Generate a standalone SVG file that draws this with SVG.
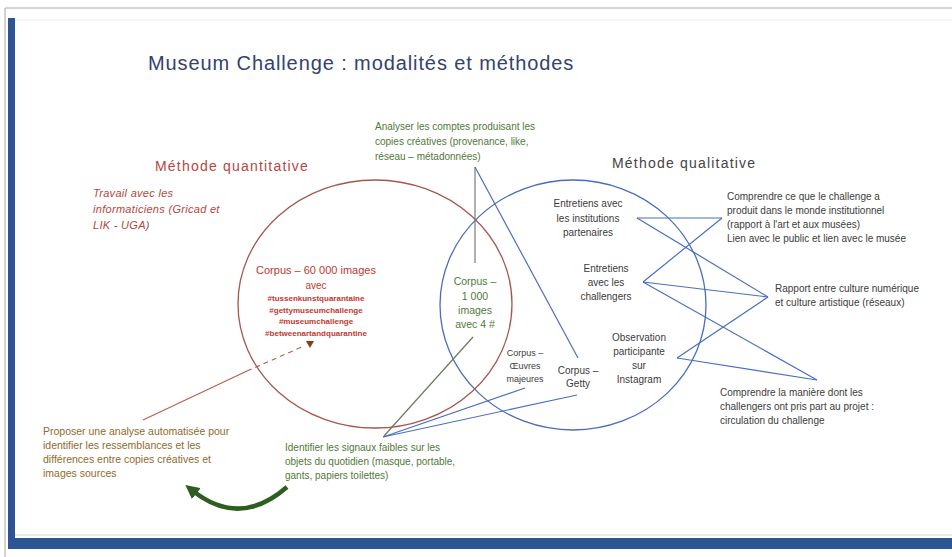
<svg xmlns="http://www.w3.org/2000/svg" width="952" height="557" viewBox="0 0 952 557">
<defs>
<style>
text{font-family:"Liberation Sans","DejaVu Sans",Arial,sans-serif}
.title{font-size:20px;fill:#33426e;letter-spacing:0.9px}
.h-red{font-size:14px;fill:#b5473f;letter-spacing:1.2px}
.h-gray{font-size:14px;fill:#444;letter-spacing:1.2px}
.red-it{font-size:11px;fill:#b8443c;font-style:italic;letter-spacing:0.3px}
.red{font-size:11px;fill:#c0392f}
.tag{font-size:8px;fill:#c0392f;font-weight:bold}
.green{font-size:10px;fill:#4f7a38}
.olive{font-size:10.5px;fill:#8e6b2c}
.gray{font-size:10px;fill:#3c3c3c}
.gray-s{font-size:9px;fill:#3c3c3c}
.mid{text-anchor:middle}
.bl{stroke:#4a6fc0;stroke-width:1.2;fill:none}
</style>
<marker id="ah" markerUnits="userSpaceOnUse" markerWidth="14" markerHeight="14" viewBox="0 0 10 10" refX="3" refY="5" orient="auto">
<path d="M0,0 L10,5 L0,10 z" fill="#2e5e1f"/>
</marker>
</defs>
<rect width="952" height="557" fill="#ffffff"/>
<g id="frame">
<line x1="5" y1="8" x2="952" y2="8" stroke="#a8a8a8" stroke-width="1"/>
<line x1="5" y1="8" x2="5" y2="557" stroke="#a8a8a8" stroke-width="1"/>
<line x1="15" y1="20" x2="952" y2="20" stroke="#ececec" stroke-width="1"/>
<line x1="15" y1="535" x2="952" y2="535" stroke="#cdd6e6" stroke-width="1"/>
<rect x="8" y="18" width="7" height="531" fill="#2d5596"/>
<rect x="8" y="538" width="944" height="11" fill="#2d5596"/>
</g>
<g id="title"><text class="title" x="148" y="70">Museum Challenge : modalités et méthodes</text></g>

<g id="connectors">
<ellipse id="circle-quanti" cx="375" cy="304" rx="137" ry="124" fill="none" stroke="#a5574d" stroke-width="1.3"/>
<ellipse id="circle-quali" cx="573" cy="305" rx="133" ry="125" fill="none" stroke="#4a6cba" stroke-width="1.3"/>
<line x1="475" y1="167" x2="475" y2="263" stroke="#7a7a7a" stroke-width="1.2"/>
<line class="bl" x1="475" y1="167" x2="578" y2="358"/>
<line x1="473" y1="337" x2="384" y2="436" stroke="#6b7a5a" stroke-width="1.2"/>
<line class="bl" x1="383" y1="437" x2="525" y2="388"/>
<line class="bl" x1="383" y1="437" x2="577" y2="395"/>
<line class="bl" x1="637" y1="218" x2="722" y2="218"/>
<line class="bl" x1="722" y1="218" x2="643" y2="282"/>
<line class="bl" x1="637" y1="218" x2="768" y2="297"/>
<line class="bl" x1="643" y1="282" x2="768" y2="297"/>
<line class="bl" x1="643" y1="282" x2="817" y2="380"/>
<line class="bl" x1="677" y1="358" x2="768" y2="297"/>
<line class="bl" x1="677" y1="358" x2="817" y2="380"/>
<line x1="143" y1="420" x2="247" y2="371" stroke="#b0604f" stroke-width="1.1"/>
<line x1="247" y1="371" x2="304" y2="346" stroke="#b0604f" stroke-width="1.1" stroke-dasharray="5 4"/>
<polygon points="306,341 314,341 310,348" fill="#8b3a1a"/>
<path d="M287 487 Q240 528 193 491" fill="none" stroke="#2e5e1f" stroke-width="4.5" marker-end="url(#ah)"/>
</g>

<g id="methode-quantitative"><text class="h-red" x="155" y="171">Méthode quantitative</text></g>
<g id="travail-informaticiens">
<text class="red-it" x="93" y="197">Travail avec les</text>
<text class="red-it" x="93" y="213">informaticiens (Gricad et</text>
<text class="red-it" x="93" y="229">LIK - UGA)</text>
</g>
<g id="corpus-60000">
<text class="red mid" x="316" y="274">Corpus – 60 000 images</text>
<text class="red mid" x="316" y="289" style="font-size:10px">avec</text>
<text class="tag mid" x="316" y="301">#tussenkunstquarantaine</text>
<text class="tag mid" x="316" y="312.5">#gettymuseumchallenge</text>
<text class="tag mid" x="316" y="324">#museumchallenge</text>
<text class="tag mid" x="316" y="335.5">#betweenartandquarantine</text>
</g>
<g id="analyser-comptes">
<text class="green" x="375" y="130">Analyser les comptes produisant les</text>
<text class="green" x="375" y="145">copies créatives (provenance, like,</text>
<text class="green" x="375" y="160">réseau – métadonnées)</text>
</g>
<g id="corpus-1000">
<text class="green mid" x="475" y="285" style="font-size:10.5px">Corpus –</text>
<text class="green mid" x="475" y="299.5" style="font-size:10.5px">1 000</text>
<text class="green mid" x="475" y="314" style="font-size:10.5px">images</text>
<text class="green mid" x="475" y="328" style="font-size:10.5px">avec 4 #</text>
</g>
<g id="corpus-oeuvres">
<text class="gray-s mid" x="525" y="356">Corpus –</text>
<text class="gray-s mid" x="525" y="369">Œuvres</text>
<text class="gray-s mid" x="525" y="382">majeures</text>
</g>
<g id="corpus-getty">
<text class="gray mid" x="578" y="374">Corpus –</text>
<text class="gray mid" x="578" y="387">Getty</text>
</g>
<g id="methode-qualitative"><text class="h-gray" x="612" y="168">Méthode qualitative</text></g>
<g id="entretiens-institutions">
<text class="gray mid" x="588" y="207">Entretiens avec</text>
<text class="gray mid" x="588" y="222">les institutions</text>
<text class="gray mid" x="588" y="236">partenaires</text>
</g>
<g id="entretiens-challengers">
<text class="gray mid" x="606" y="272">Entretiens</text>
<text class="gray mid" x="606" y="286">avec les</text>
<text class="gray mid" x="606" y="300">challengers</text>
</g>
<g id="observation">
<text class="gray mid" x="639" y="341">Observation</text>
<text class="gray mid" x="639" y="355">participante</text>
<text class="gray mid" x="639" y="369">sur</text>
<text class="gray mid" x="639" y="383">Instagram</text>
</g>
<g id="comprendre-institutionnel">
<text class="gray" x="727" y="200">Comprendre ce que le challenge a</text>
<text class="gray" x="727" y="214">produit dans le monde institutionnel</text>
<text class="gray" x="727" y="228">(rapport à l'art et aux musées)</text>
<text class="gray" x="727" y="242">Lien avec le public et lien avec le musée</text>
</g>
<g id="rapport-culture">
<text class="gray" x="775" y="292">Rapport entre culture numérique</text>
<text class="gray" x="775" y="306">et culture artistique (réseaux)</text>
</g>
<g id="comprendre-maniere">
<text class="gray" x="720" y="396">Comprendre la manière dont les</text>
<text class="gray" x="720" y="410">challengers ont pris part au projet :</text>
<text class="gray" x="720" y="424">circulation du challenge</text>
</g>
<g id="identifier-signaux">
<text class="green" x="285" y="451">Identifier les signaux faibles sur les</text>
<text class="green" x="285" y="465">objets du quotidien (masque, portable,</text>
<text class="green" x="285" y="479">gants, papiers toilettes)</text>
</g>
<g id="proposer-analyse">
<text class="olive" x="43" y="435">Proposer une analyse automatisée pour</text>
<text class="olive" x="43" y="449">identifier les ressemblances et les</text>
<text class="olive" x="43" y="463">différences entre copies créatives et</text>
<text class="olive" x="43" y="477">images sources</text>
</g>
</svg>
